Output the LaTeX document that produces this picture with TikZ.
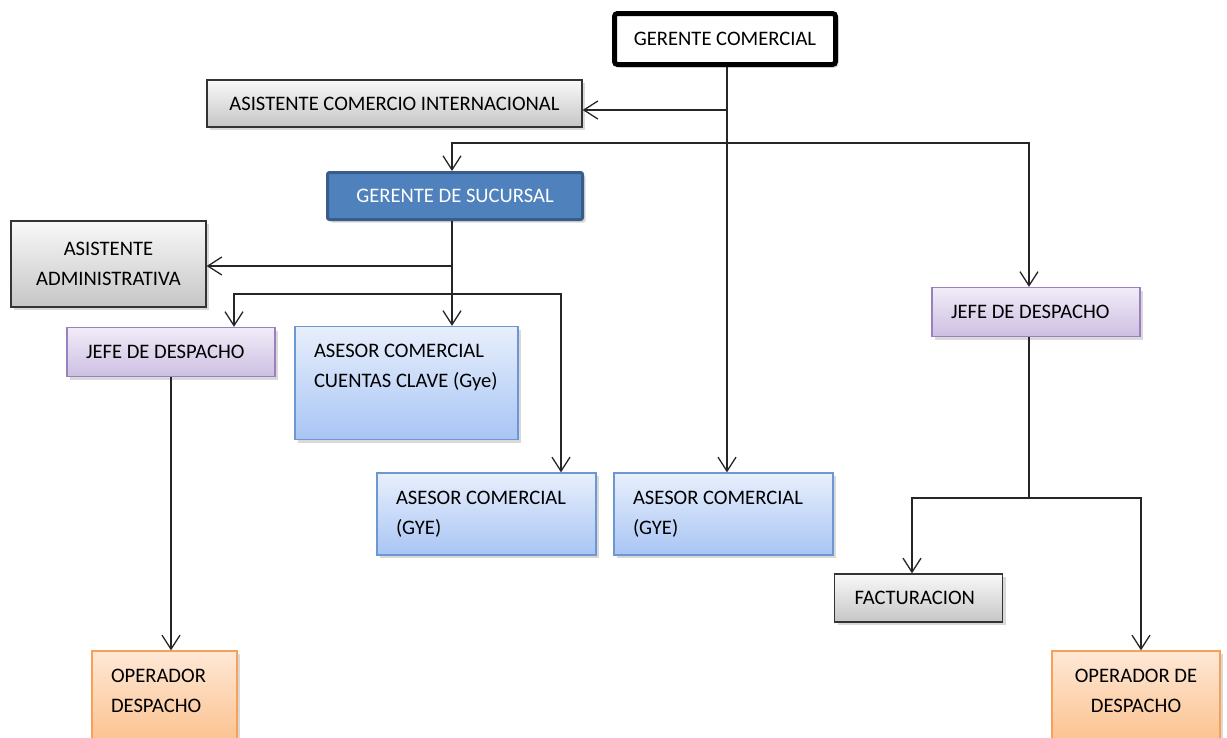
\documentclass[tikz,border=0pt]{standalone}
\usepackage{fontspec}
\setmainfont{Carlito}
\usetikzlibrary{positioning, arrows.meta, shadows}
\newcommand{\boxfont}{\fontsize{20.6}{30}\selectfont}
\newcommand{\stdarrow}{-{Straight Barb[length=14pt,width=18pt]}}
\newcommand{\topbox}[3]{\parbox[c][#2][t]{#1}{#3}}
\definecolor{bluefill}{HTML}{4F81BD}
\definecolor{blueline}{HTML}{385D8A}
\definecolor{lavline}{HTML}{9B80C0}
\definecolor{lavtop}{HTML}{F1ECF8}
\definecolor{lavbot}{HTML}{CDBFE2}
\definecolor{asline}{HTML}{6C97D2}
\definecolor{astop}{HTML}{E8EFFC}
\definecolor{asbot}{HTML}{A8C5F4}
\definecolor{orline}{HTML}{F7A05A}
\definecolor{ortop}{HTML}{FEE8D6}
\definecolor{orbot}{HTML}{FBBE88}

\tikzset{
  box/.style={rectangle, font=\boxfont, inner sep=0pt,
    drop shadow={opacity=0.3, shadow xshift=3pt, shadow yshift=-3pt}},
  graybox/.style={box, draw=black!80, line width=1.3pt, top color=gray!5, bottom color=gray!45},
  lavbox/.style={box, draw=lavline, line width=1.3pt, top color=lavtop, bottom color=lavbot},
  asesorbox/.style={box, draw=asline, line width=1.3pt, top color=astop, bottom color=asbot},
  operbox/.style={box, draw=orline, line width=1.3pt, top color=ortop, bottom color=orbot},
  padded/.style={inner xsep=19pt, inner ysep=18pt},
  leftpad/.style={align=flush left, inner xsep=19pt, text width=#1},
  conn/.style={draw=black!85, line width=1.3pt},
}

\begin{document}
\begin{tikzpicture}[x=1pt, y=-1pt]
  \useasboundingbox (0,0) rectangle (1227,737);

  % top level
  \node[box, draw=black, line width=5pt, fill=white, rounded corners=3pt,
    minimum width=221pt, minimum height=51pt] (gc) at (725,39) {GERENTE COMERCIAL};
  \node[graybox, minimum width=375pt, minimum height=47pt] (aci) at (394.5,103.5)
    {ASISTENTE COMERCIO INTERNACIONAL};
  \node[box, draw=blueline, line width=3pt, fill=bluefill, text=white, rounded corners=2pt,
    minimum width=255pt, minimum height=47pt] (gs) at (455,196) {GERENTE DE SUCURSAL};
  \node[graybox, align=center, minimum width=195pt, minimum height=86pt] (aa) at (108.5,264)
    {ASISTENTE\\ADMINISTRATIVA};

  % sucursal
  \node[lavbox, leftpad=170pt, minimum height=49pt] (jdl) at (171,352) {JEFE DE DESPACHO};
  \node[asesorbox, padded] (cc) at (406.5,383)
    {\topbox{185pt}{77pt}{ASESOR COMERCIAL\\CUENTAS CLAVE (Gye)}};
  \node[asesorbox, padded] (gyl) at (486.5,514)
    {\topbox{181pt}{46pt}{ASESOR COMERCIAL\\(GYE)}};
  \node[asesorbox, padded] (gym) at (723.5,514)
    {\topbox{181pt}{46pt}{ASESOR COMERCIAL\\(GYE)}};
  \node[operbox, padded] (opl) at (164.5,701)
    {\topbox{107pt}{64pt}{OPERADOR\\DESPACHO}};

  % despacho
  \node[lavbox, leftpad=170pt, minimum height=49pt] (jdr) at (1036,312) {JEFE DE DESPACHO};
  \node[graybox, leftpad=128pt, inner xsep=20pt, minimum height=48pt] (fac) at (918.5,598)
    {FACTURACION};
  \node[operbox, padded] (opr) at (1136,701)
    {\topbox{130pt}{64pt}{\centering OPERADOR DE\\DESPACHO}};

  % connectors
  \coordinate (t1) at (727,110);
  \coordinate (t2) at (727,143);
  \coordinate (b1) at (452,143);
  \coordinate (b2) at (1029,143);
  \draw[conn, \stdarrow] (gc.south -| t1) -- (gym.north -| t1);
  \draw[conn, \stdarrow] (t1) -- (aci.east |- t1);
  \draw[conn, \stdarrow] (t2) -| (gs.north -| b1);
  \draw[conn, \stdarrow] (t2) -| (jdr.north -| b2);

  \coordinate (s1) at (452,266);
  \coordinate (s2) at (452,294);
  \coordinate (s3) at (234,294);
  \coordinate (s4) at (561,294);
  \draw[conn, \stdarrow] (gs.south -| s1) -- (cc.north -| s1);
  \draw[conn, \stdarrow] (s1) -- (aa.east |- s1);
  \draw[conn, \stdarrow] (s2) -| (jdl.north -| s3);
  \draw[conn, \stdarrow] (s2) -| (gyl.north -| s4);

  \draw[conn, \stdarrow] (jdl.south) -- (opl.north -| jdl.south);

  \coordinate (r1) at (1029,498);
  \coordinate (r2) at (912,498);
  \coordinate (r3) at (1141,498);
  \draw[conn] (jdr.south -| r1) -- (r1);
  \draw[conn, \stdarrow] (r1) -| (fac.north -| r2);
  \draw[conn, \stdarrow] (r1) -| (opr.north -| r3);
\end{tikzpicture}
\end{document}
